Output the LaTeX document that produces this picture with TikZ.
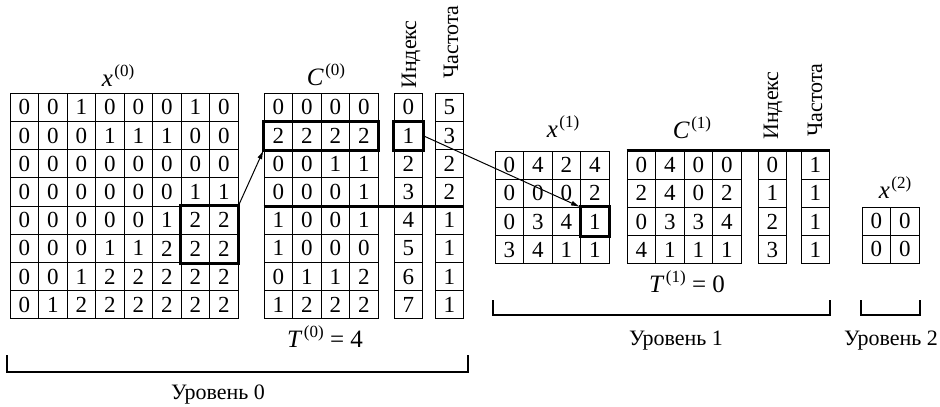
\documentclass[tikz,border=0pt]{standalone}
\usepackage{fontspec}
\setmainfont{Liberation Serif}
\usetikzlibrary{arrows.meta}
\newcommand\supp[1]{\raisebox{10pt}{\fontsize{17}{17}\selectfont(#1)}}
\newcommand\lbl[2]{{\fontsize{25}{28}\selectfont\textit{#1}\kern1.5pt\supp{#2}}}
\newcommand\drawgrid[4]{%
  \foreach \rowv [count=\r] in {#4} {%
    \foreach \v [count=\c] in \rowv {%
      \node[cell] (#1-\r-\c) at ({#2+(\c-0.5)*28.5},{#3+(\r-0.5)*28.2}) {\v};
    }%
  }%
}
\tikzset{
  cell/.style={draw, line width=1pt, minimum width=28.5pt, minimum height=28.2pt, inner sep=0pt, font=\fontsize{23}{27}\selectfont},
  hl/.style={line width=3pt},
  arr/.style={line width=1pt, -{Latex[length=9pt,width=5pt]}},
  brk/.style={line width=1.3pt},
  vlabel/.style={rotate=90, anchor=base west, inner sep=0pt},
  title/.style={anchor=base, inner sep=0pt}
}
\begin{document}
\begin{tikzpicture}[x=1pt, y=-1pt, font=\fontsize{22}{26}\selectfont]
\useasboundingbox (0,0) rectangle (940,407);

% Level 0
\drawgrid{xa}{10}{93.3}{{0,0,1,0,0,0,1,0},{0,0,0,1,1,1,0,0},{0,0,0,0,0,0,0,0},{0,0,0,0,0,0,1,1},{0,0,0,0,0,1,2,2},{0,0,0,1,1,2,2,2},{0,0,1,2,2,2,2,2},{0,1,2,2,2,2,2,2}}
\drawgrid{ca}{264}{93.3}{{0,0,0,0},{2,2,2,2},{0,0,1,1},{0,0,0,1},{1,0,0,1},{1,0,0,0},{0,1,1,2},{1,2,2,2}}
\drawgrid{ia}{394}{93.3}{{0},{1},{2},{3},{4},{5},{6},{7}}
\drawgrid{fa}{435}{93.3}{{5},{3},{2},{2},{1},{1},{1},{1}}

% Level 1
\drawgrid{xb}{495}{151}{{0,4,2,4},{0,0,0,2},{0,3,4,1},{3,4,1,1}}
\drawgrid{cb}{627}{151}{{0,4,0,0},{2,4,0,2},{0,3,3,4},{4,1,1,1}}
\drawgrid{ib}{758}{151}{{0},{1},{2},{3}}
\drawgrid{fb}{801}{151}{{1},{1},{1},{1}}

% Level 2
\drawgrid{xc}{862}{207}{{0,0},{0,0}}

% highlights
\draw[hl] (xa-5-7.north west) rectangle (xa-6-8.south east);
\draw[hl] (ca-2-1.north west) rectangle (ca-2-4.south east);
\draw[hl] (ia-2-1.north west) rectangle (ia-2-1.south east);
\draw[hl] (ca-4-1.south west) -- (fa-4-1.south east);
\draw[hl] (xb-3-4.north west) rectangle (xb-3-4.south east);
\draw[hl] (cb-1-1.north west) -- (fb-1-1.north east);

% arrows
\draw[arr] (xa-5-8.north east) -- (ca-2-1.south west);
\draw[arr] (ia-2-1.east) -- (xb-3-4.north west);

% titles
\node[title] (tx0) at (118,86) {\lbl{x}{0}};
\node[title] (tc0) at (326,85) {\lbl{C}{0}};
\node[title] (tx1) at (563,137) {\lbl{x}{1}};
\node[title] (tc1) at (692,138) {\lbl{C}{1}};
\node[title] (tx2) at (895,198) {\lbl{x}{2}};

\node[vlabel] (li0) at (416,89) {Индекс};
\node[vlabel] (lf0) at (458,79) {Частота};
\node[vlabel] (li1) at (778,140) {Индекс};
\node[vlabel] (lf1) at (822,137) {Частота};

% T labels
\node[title] (t0) at (325,347) {{\fontsize{25}{28}\selectfont\textit{T}\kern1.5pt\supp{0} = 4}};
\node[title] (t1) at (687,292) {{\fontsize{25}{28}\selectfont\textit{T}\kern1.5pt\supp{1} = 0}};

% brackets
\draw[brk] (7,355) -- (7,372) -- (468,372) -- (468,355);
\draw[brk] (493,300) -- (493,315) -- (830,315) -- (830,300);
\draw[brk] (861,300) -- (861,315) -- (920,315) -- (920,300);

\node[title] (u0) at (218,399) {Уровень 0};
\node[title] (u1) at (676,345) {Уровень 1};
\node[title] (u2) at (891,345) {Уровень 2};
\end{tikzpicture}
\end{document}
